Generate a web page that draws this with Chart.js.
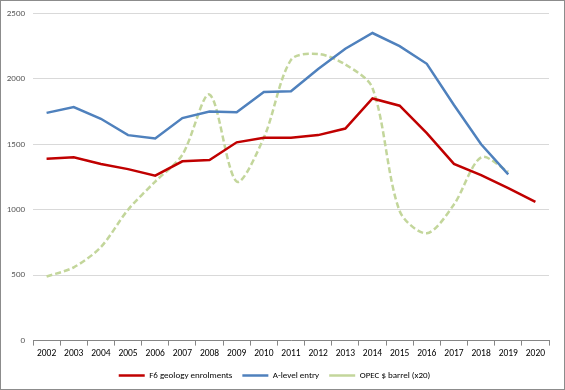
<!DOCTYPE html>
<html>
<head>
<meta charset="utf-8">
<script src="https://cdn.jsdelivr.net/npm/chart.js@4"></script>
<style>
    body { margin: 0; background: #fff; }
    #wrap { width: 565px; height: 390px; }
</style>
</head>
<body>
<div id="wrap"><canvas id="myChart" width="565" height="390"></canvas></div>
<script>
// years on the x axis
var years = ["2002", "2003", "2004", "2005", "2006", "2007", "2008", "2009", "2010", "2011",
    "2012", "2013", "2014", "2015", "2016", "2017", "2018", "2019", "2020"]

// series
var geology = [1390, 1400, 1350, 1310, 1260, 1370, 1380, 1515, 1550, 1550,
    1570, 1620, 1850, 1795, 1585, 1350, 1265, 1165, 1060]
var aLevel = [1740, 1785, 1695, 1570, 1545, 1700, 1750, 1745, 1900, 1905,
    2075, 2230, 2350, 2250, 2115, 1800, 1500, 1270, null]
var opec = [490, 560, 715, 1000, 1215, 1420, 1880, 1215, 1550, 2145,
    2190, 2110, 1930, 990, 820, 1040, 1400, 1290, null]

var yTicks = [0, 500, 1000, 1500, 2000, 2500]

var FONT = "Carlito, Calibri, Lato, sans-serif"

// grey frame round the whole chart
var framePlugin = {
    id: "frame",
    beforeDraw: function (chart) {
        var ctx = chart.ctx
        ctx.save()
        ctx.fillStyle = "#fff"
        ctx.fillRect(0, 0, chart.width, chart.height)
        ctx.restore()
    },
    afterDraw: function (chart) {
        var ctx = chart.ctx
        ctx.save()
        ctx.strokeStyle = "#8c8c8c"
        ctx.lineWidth = 1
        ctx.strokeRect(0.5, 0.5, chart.width - 1, chart.height - 1)
        ctx.restore()
    }
}

window.addEventListener("load", function () {
    new Chart("myChart", {
        type: "line",
        data: {
            labels: years,
            datasets: [{
                label: "F6 geology enrolments",
                data: geology,
                borderColor: "#c00000",
                backgroundColor: "#c00000",
                borderWidth: 2.5,
                pointRadius: 0,
                pointStyle: "line",
                tension: 0
            }, {
                label: "A-level entry",
                data: aLevel,
                borderColor: "#4f81bd",
                backgroundColor: "#4f81bd",
                borderWidth: 2.5,
                pointRadius: 0,
                pointStyle: "line",
                tension: 0
            }, {
                label: "OPEC $ barrel (x20)",
                data: opec,
                borderColor: "#c3d69b",
                backgroundColor: "#c3d69b",
                borderWidth: 2.5,
                borderDash: [6, 3],
                pointRadius: 0,
                pointStyle: "line",
                tension: 0.3
            }]
        },
        options: {
            responsive: false,
            animation: false,
            layout: { padding: { left: 0, right: 16, top: 11, bottom: 0 } },
            scales: {
                x: {
                    offset: true,
                    grid: {
                        offset: true,
                        drawOnChartArea: false,
                        drawTicks: true,
                        tickLength: 5,
                        color: "#868686"
                    },
                    border: { display: true, color: "#868686", width: 1 },
                    ticks: {
                        color: "#000",
                        font: { family: FONT, size: 9.5 },
                        padding: 2,
                        maxRotation: 0,
                        autoSkip: false
                    }
                },
                y: {
                    min: 0,
                    max: 2500,
                    afterFit: function (scale) { scale.width = 33 },
                    afterBuildTicks: function (scale) {
                        scale.ticks = yTicks.map(function (v) { return { value: v } })
                    },
                    grid: { color: "#d9d9d9", drawTicks: false },
                    border: { display: false },
                    ticks: {
                        color: "#595959",
                        font: { family: FONT, size: 9 },
                        padding: 8,
                        callback: function (v) { return String(v) }
                    }
                }
            },
            plugins: {
                legend: {
                    position: "bottom",
                    labels: {
                        usePointStyle: true,
                        pointStyleWidth: 26,
                        boxWidth: 26,
                        boxHeight: 9,
                        padding: 10,
                        color: "#000",
                        font: { family: FONT, size: 9 }
                    }
                },
                tooltip: { enabled: false }
            }
        },
        plugins: [framePlugin]
    })
})
</script>
</body>
</html>
